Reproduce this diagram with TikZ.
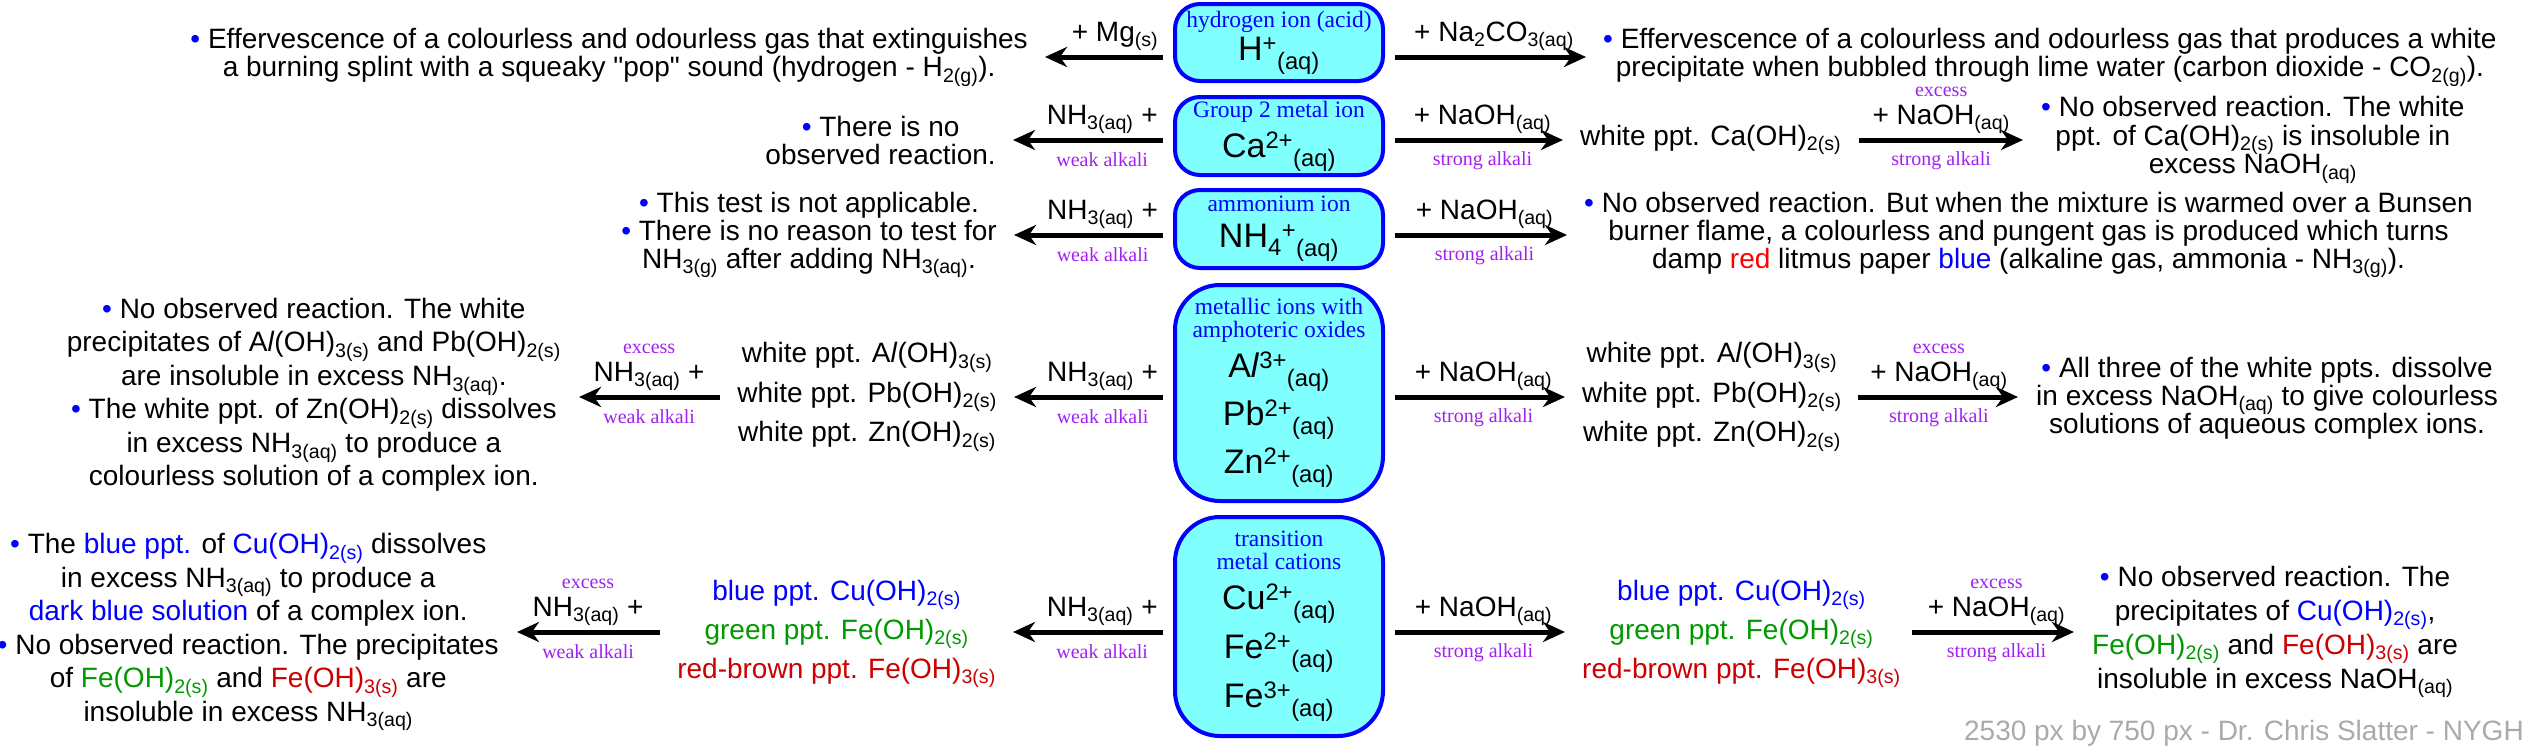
\documentclass[tikz,border=0pt]{standalone}
\usepackage{fontspec}
\setmainfont{Liberation Sans}
\newfontfamily\lblfont{Liberation Serif}
\usetikzlibrary{arrows.meta}

\definecolor{bxfill}{RGB}{128,255,255}
\definecolor{bxline}{RGB}{0,0,255}
\definecolor{alkpurple}{RGB}{160,32,240}
\definecolor{pptblue}{RGB}{0,0,255}
\definecolor{pptgreen}{RGB}{0,153,0}
\definecolor{pptred}{RGB}{204,0,0}
\definecolor{litred}{RGB}{255,0,0}
\definecolor{footgray}{RGB}{170,170,170}

\newcommand{\sbs}[1]{\textsubscript{#1}}
\newcommand{\sps}[1]{\textsuperscript{#1}}
\newcommand{\bul}{{\color{bxline}\textbullet}\ }
\newcommand{\tightskip}{\lineskiplimit -30pt\relax}
\newcommand{\txtsize}[1]{\fontsize{28}{#1}\selectfont\tightskip}
\newcommand{\ionsize}{\fontsize{34}{47}\selectfont\tightskip}
\newcommand{\kind}[1]{{\lblfont\fontsize{23.5}{23.5}\selectfont\color{bxline}#1}}
\newcommand{\cB}[1]{\textcolor{pptblue}{#1}}
\newcommand{\cG}[1]{\textcolor{pptgreen}{#1}}
\newcommand{\cR}[1]{\textcolor{pptred}{#1}}

\tikzset{
  ionbox/.style={draw=bxline, line width=4pt, fill=bxfill, rounded corners=25pt, minimum width=208pt, inner sep=0pt, align=center, font=\ionsize},
  bigbox/.style={ionbox, rounded corners=45pt},
  txt/.style={align=center, inner sep=0pt, font=\txtsize{28.5}},
  txtwide/.style={txt, font=\txtsize{33.5}},
  pptlist/.style={txt, font=\txtsize{39.5}},
  reag/.style={inner sep=0pt, anchor=base, font=\txtsize{28}},
  alk/.style={inner sep=0pt, anchor=base, text=alkpurple, font=\lblfont\fontsize{20}{20}\selectfont},
  rxn/.style={line width=5pt, -{Stealth[length=22pt, width=20pt, inset=7pt]}, shorten <=10pt, shorten >=17pt},
}

\begin{document}
\begin{tikzpicture}[x=1pt, y=-1pt]
  \useasboundingbox (0,0) rectangle (2530,750);
  % arrow heights of the five rows
  \coordinate (r1) at (0,57);
  \coordinate (r2) at (0,140);
  \coordinate (r3) at (0,235);
  \coordinate (r4) at (0,397);
  \coordinate (r5) at (0,632);

  % Row 1: hydrogen ion
  \node[ionbox, minimum height=77pt] (hyd) at (1279,42.5) {\kind{hydrogen ion (acid)}\\[-14pt]H\sps{+}\sbs{(aq)}};
  \node[txt, anchor=east] (hydL) at (1028,57) {\bul Effervescence of a colourless and odourless gas that extinguishes\\a burning splint with a squeaky \textquotedbl pop\textquotedbl{} sound (hydrogen - H\sbs{2(g)}).};
  \node[txt, anchor=west] (hydR) at (1603,57) {\bul Effervescence of a colourless and odourless gas that produces a white\\precipitate when bubbled through lime water (carbon dioxide - CO\sbs{2(g)}).};
  \draw[rxn] (hyd.west |- r1) -- node[reag, pos=0.4, yshift=16pt] {+ Mg\sbs{(s)}} (hydL.east |- r1);
  \draw[rxn] (hyd.east |- r1) -- node[reag, midway, yshift=16pt] {+ Na\sbs{2}CO\sbs{3(aq)}} (hydR.west |- r1);

  % Row 2: Group 2 metal ion
  \node[ionbox, minimum height=78pt] (grp) at (1279,136) {\kind{Group 2 metal ion}\\[-7pt]Ca\sps{2+}\sbs{(aq)}};
  \node[txt, font=\txtsize{28}, anchor=east] (grpL) at (996,140) {\bul There is no\\observed reaction.};
  \node[txt, anchor=west] (grpP) at (1580,140) {white ppt. Ca(OH)\sbs{2(s)}};
  \node[txt, anchor=west] (grpR) at (2041,140) {\bul No observed reaction. The white\\ppt. of Ca(OH)\sbs{2(s)} is insoluble in\\excess NaOH\sbs{(aq)}};
  \draw[rxn] (grp.west |- r2) -- node[reag, pos=0.4, yshift=16pt] {NH\sbs{3(aq)} +} node[alk, pos=0.4, yshift=-26pt] {weak alkali} (grpL.east |- r2);
  \draw[rxn] (grp.east |- r2) -- node[reag, midway, yshift=16pt] {+ NaOH\sbs{(aq)}} node[alk, midway, yshift=-25pt] {strong alkali} (grpP.west |- r2);
  \draw[rxn, shorten <=18pt, shorten >=18pt] (grpP.east |- r2) -- node[alk, midway, yshift=44pt] {excess} node[reag, midway, yshift=16pt] {+ NaOH\sbs{(aq)}} node[alk, midway, yshift=-25pt] {strong alkali} (grpR.west |- r2);

  % Row 3: ammonium ion
  \node[ionbox, minimum height=78pt] (amm) at (1279,229) {\kind{ammonium ion}\\[-11pt]NH\sbs{4}\sps{+}\sbs{(aq)}};
  \node[txt, font=\txtsize{28}, anchor=east] (ammL) at (997,235) {\bul This test is not applicable.\\\bul There is no reason to test for\\NH\sbs{3(g)} after adding NH\sbs{3(aq)}.};
  \node[txt, font=\txtsize{28}, anchor=west] (ammR) at (1584,235) {\bul No observed reaction. But when the mixture is warmed over a Bunsen\\burner flame, a colourless and pungent gas is produced which turns\\damp \textcolor{litred}{red} litmus paper \cB{blue} (alkaline gas, ammonia - NH\sbs{3(g)}).};
  \draw[rxn] (amm.west |- r3) -- node[reag, pos=0.4, yshift=16pt] {NH\sbs{3(aq)} +} node[alk, pos=0.4, yshift=-26pt] {weak alkali} (ammL.east |- r3);
  \draw[rxn] (amm.east |- r3) -- node[reag, midway, yshift=16pt] {+ NaOH\sbs{(aq)}} node[alk, midway, yshift=-25pt] {strong alkali} (ammR.west |- r3);

  % Row 4: amphoteric ions
  \node[bigbox, minimum height=216pt] (amp) at (1279,393) {\kind{metallic ions with}\\[-24pt]\kind{amphoteric oxides}\\[-7pt]A\textit{l}\sps{3+}\sbs{(aq)}\\[1pt]Pb\sps{2+}\sbs{(aq)}\\[1pt]Zn\sps{2+}\sbs{(aq)}};
  \node[pptlist, anchor=east] (ampP1) at (997,397) {white ppt. A\textit{l}(OH)\sbs{3(s)}\\white ppt. Pb(OH)\sbs{2(s)}\\white ppt. Zn(OH)\sbs{2(s)}};
  \node[txtwide, anchor=east] (ampL) at (561,395) {\bul No observed reaction. The white\\precipitates of A\textit{l}(OH)\sbs{3(s)} and Pb(OH)\sbs{2(s)}\\are insoluble in excess NH\sbs{3(aq)}.\\\bul The white ppt. of Zn(OH)\sbs{2(s)} dissolves\\in excess NH\sbs{3(aq)} to produce a\\colourless solution of a complex ion.};
  \node[pptlist, anchor=west] (ampP2) at (1582,397) {white ppt. A\textit{l}(OH)\sbs{3(s)}\\white ppt. Pb(OH)\sbs{2(s)}\\white ppt. Zn(OH)\sbs{2(s)}};
  \node[txt, font=\txtsize{28}, anchor=west] (ampR) at (2036,398) {\bul All three of the white ppts. dissolve\\in excess NaOH\sbs{(aq)} to give colourless\\solutions of aqueous complex ions.};
  \draw[rxn] (amp.west |- r4) -- node[reag, pos=0.4, yshift=16pt] {NH\sbs{3(aq)} +} node[alk, pos=0.4, yshift=-26pt] {weak alkali} (ampP1.east |- r4);
  \draw[rxn, shorten <=17pt, shorten >=18pt] (ampP1.west |- r4) -- node[alk, midway, yshift=44pt] {excess} node[reag, midway, yshift=16pt] {NH\sbs{3(aq)} +} node[alk, midway, yshift=-26pt] {weak alkali} (ampL.east |- r4);
  \draw[rxn] (amp.east |- r4) -- node[reag, midway, yshift=16pt] {+ NaOH\sbs{(aq)}} node[alk, midway, yshift=-25pt] {strong alkali} (ampP2.west |- r4);
  \draw[rxn, shorten <=16pt, shorten >=18pt] (ampP2.east |- r4) -- node[alk, midway, yshift=44pt] {excess} node[reag, midway, yshift=16pt] {+ NaOH\sbs{(aq)}} node[alk, midway, yshift=-25pt] {strong alkali} (ampR.west |- r4);

  % Row 5: transition metal cations
  \node[bigbox, minimum height=219pt] (trn) at (1279,626.5) {\kind{transition}\\[-24pt]\kind{metal cations}\\[-7pt]Cu\sps{2+}\sbs{(aq)}\\[2pt]Fe\sps{2+}\sbs{(aq)}\\[2pt]Fe\sps{3+}\sbs{(aq)}};
  \node[pptlist, font=\txtsize{39}, anchor=east] (trnP1) at (996,634) {\cB{blue ppt. Cu(OH)\sbs{2(s)}}\\\cG{green ppt. Fe(OH)\sbs{2(s)}}\\\cR{red-brown ppt. Fe(OH)\sbs{3(s)}}};
  \node[txtwide, anchor=east] (trnL) at (499,632) {\bul The \cB{blue ppt.} of \cB{Cu(OH)\sbs{2(s)}} dissolves\\in excess NH\sbs{3(aq)} to produce a\\\cB{dark blue solution} of a complex ion.\\\bul No observed reaction. The precipitates\\of \cG{Fe(OH)\sbs{2(s)}} and \cR{Fe(OH)\sbs{3(s)}} are\\insoluble in excess NH\sbs{3(aq)}};
  \node[pptlist, font=\txtsize{39}, anchor=west] (trnP2) at (1582,634) {\cB{blue ppt. Cu(OH)\sbs{2(s)}}\\\cG{green ppt. Fe(OH)\sbs{2(s)}}\\\cR{red-brown ppt. Fe(OH)\sbs{3(s)}}};
  \node[txt, font=\txtsize{34}, anchor=west] (trnR) at (2092,632) {\bul No observed reaction. The\\precipitates of \cB{Cu(OH)\sbs{2(s)}},\\\cG{Fe(OH)\sbs{2(s)}} and \cR{Fe(OH)\sbs{3(s)}} are\\insoluble in excess NaOH\sbs{(aq)}};
  \draw[rxn] (trn.west |- r5) -- node[reag, pos=0.4, yshift=16pt] {NH\sbs{3(aq)} +} node[alk, pos=0.4, yshift=-26pt] {weak alkali} (trnP1.east |- r5);
  \draw[rxn, shorten <=17pt, shorten >=18pt] (trnP1.west |- r5) -- node[alk, midway, yshift=44pt] {excess} node[reag, midway, yshift=16pt] {NH\sbs{3(aq)} +} node[alk, midway, yshift=-26pt] {weak alkali} (trnL.east |- r5);
  \draw[rxn] (trn.east |- r5) -- node[reag, midway, yshift=16pt] {+ NaOH\sbs{(aq)}} node[alk, midway, yshift=-25pt] {strong alkali} (trnP2.west |- r5);
  \draw[rxn, shorten <=11pt, shorten >=18pt] (trnP2.east |- r5) -- node[alk, midway, yshift=44pt] {excess} node[reag, midway, yshift=16pt] {+ NaOH\sbs{(aq)}} node[alk, midway, yshift=-25pt] {strong alkali} (trnR.west |- r5);

  % credit line
  \node[anchor=base east, inner sep=0pt, text=footgray, font=\txtsize{28}] (credit) at (2524,740) {2530 px by 750 px - Dr. Chris Slatter - NYGH};
\end{tikzpicture}
\end{document}
